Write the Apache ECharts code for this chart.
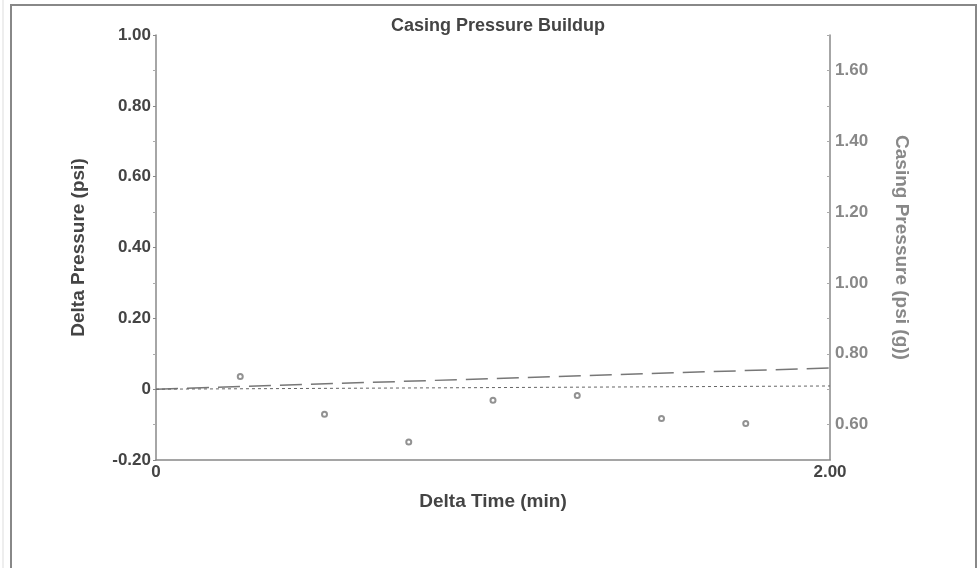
<!DOCTYPE html>
<html>
<head>
<meta charset="utf-8">
<script src="https://cdn.jsdelivr.net/npm/echarts@6/dist/echarts.min.js"></script>
<style>html,body{margin:0;padding:0;background:#fff}#c{width:979px;height:568px}</style>
</head>
<body>
<div id="c"></div>
<script>
var deltaTime = [0.25, 0.5, 0.75, 1.0, 1.25, 1.5, 1.75];
var deltaPressure = [0.036, -0.071, -0.149, -0.031, -0.018, -0.083, -0.097];
var casingLineX = [0, 2.0];
var casingLineY = [0.70, 0.76];
var fitLineX = [0, 2.0];
var fitLineY = [0.0, 0.009];

var chart = echarts.init(document.getElementById('c'));
var font = 'Liberation Sans, Arial, sans-serif';
chart.setOption({
  animation: false,
  backgroundColor: '#fff',
  title: {
    text: 'Casing Pressure Buildup', left: 493, top: 12, textAlign: 'center',
    textStyle: { fontFamily: font, fontSize: 18, fontWeight: 'bold', color: '#444' }
  },
  graphic: [
    { type: 'rect', shape: { x: 11, y: 5, width: 965, height: 580 }, style: { fill: 'none', stroke: '#888', lineWidth: 2 } },
    { type: 'line', shape: { x1: 3, y1: 0, x2: 3, y2: 568 }, style: { stroke: '#ddd', lineWidth: 1 } }
  ],
  grid: { left: 156, right: 149, top: 35, bottom: 108 },
  xAxis: {
    type: 'value', min: 0, max: 2, interval: 2,
    name: 'Delta Time (min)', nameLocation: 'middle', nameGap: 32,
    nameTextStyle: { fontFamily: font, fontSize: 19, fontWeight: 'bold', color: '#444' },
    axisLine: { onZero: false, lineStyle: { color: '#888', width: 1.5 } },
    axisTick: { show: false },
    splitLine: { show: false },
    axisLabel: { fontFamily: font, fontSize: 17, fontWeight: 'bold', color: '#444', margin: 4,
      formatter: function (v) { return v === 0 ? '0' : v.toFixed(2); } }
  },
  yAxis: [
    {
      type: 'value', min: -0.2, max: 1.0, interval: 0.2,
      name: 'Delta Pressure (psi)', nameLocation: 'middle', nameGap: 68, nameRotate: 90,
      nameTextStyle: { fontFamily: font, fontSize: 19, fontWeight: 'bold', color: '#444' },
      axisLine: { show: true, lineStyle: { color: '#888', width: 1.5 } },
      axisTick: { show: true, length: 3, lineStyle: { color: '#888' } },
      minorTick: { show: true, splitNumber: 2, length: 3, lineStyle: { color: '#aaa' } },
      splitLine: { show: false },
      axisLabel: { fontFamily: font, fontSize: 17, fontWeight: 'bold', color: '#444', margin: 5,
        formatter: function (v) { return Math.abs(v) < 1e-9 ? '0' : v.toFixed(2); } }
    },
    {
      type: 'value', min: 0.5, max: 1.7, interval: 0.1, position: 'right',
      name: 'Casing Pressure (psi (g))', nameLocation: 'middle', nameGap: 62, nameRotate: -90,
      nameTextStyle: { fontFamily: font, fontSize: 19, fontWeight: 'bold', color: '#888' },
      axisLine: { show: true, lineStyle: { color: '#888', width: 1.5 } },
      axisTick: { show: true, length: 3, inside: true, lineStyle: { color: '#aaa' } },
      splitLine: { show: false },
      axisLabel: { fontFamily: font, fontSize: 17, fontWeight: 'bold', color: '#888', margin: 5,
        formatter: function (v) { var k = Math.round(v * 10); return k % 2 === 0 ? v.toFixed(2) : ''; } }
    }
  ],
  series: [
    {
      type: 'line', yAxisIndex: 1, symbol: 'none', silent: true,
      data: casingLineX.map(function (x, i) { return [x, casingLineY[i]]; }),
      lineStyle: { color: '#777', width: 1.5, type: [22, 9] }
    },
    {
      type: 'line', yAxisIndex: 0, symbol: 'none', silent: true,
      data: fitLineX.map(function (x, i) { return [x, fitLineY[i]]; }),
      lineStyle: { color: '#666', width: 1, type: [3, 3] }
    },
    {
      type: 'scatter', yAxisIndex: 0, symbol: 'emptyCircle', symbolSize: 5,
      data: deltaTime.map(function (x, i) { return [x, deltaPressure[i]]; }),
      itemStyle: { color: '#777', borderWidth: 1.5 }
    }
  ]
});
</script>
</body>
</html>
